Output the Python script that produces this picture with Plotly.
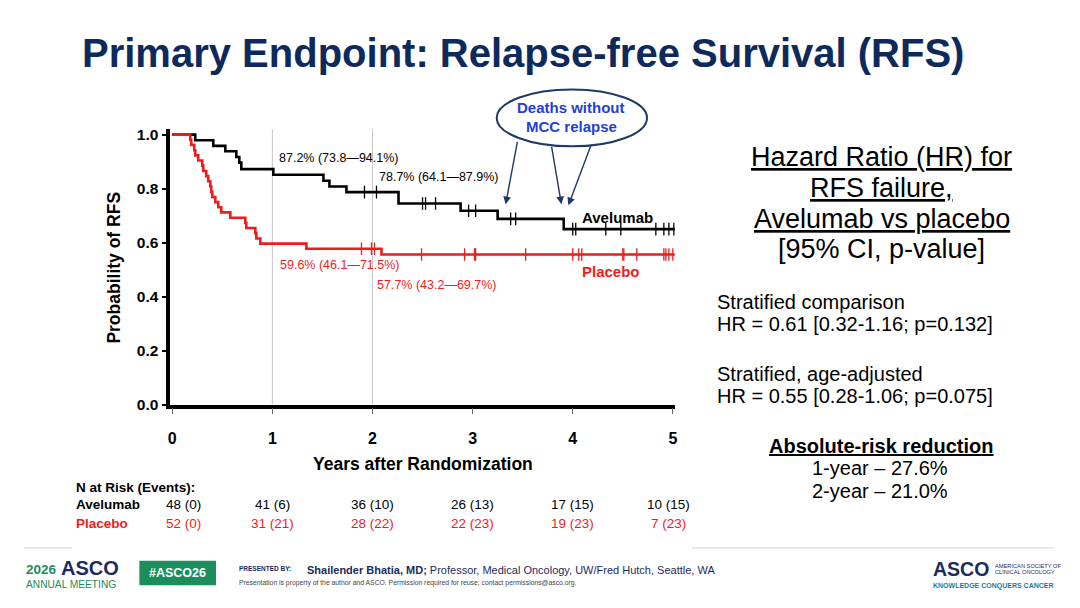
import numpy as np
import plotly.graph_objects as go

# ---------- data ----------
years = [0, 1, 2, 3, 4, 5]

# Avelumab: event times (years) and survival after each step
ave_t = [0, 0.23, 0.41, 0.53, 0.64, 0.67, 0.69, 1.01, 1.51, 1.57, 1.74, 2.26, 2.88, 3.25, 3.91, 5.02]
ave_s = [1.0, 0.979, 0.958, 0.938, 0.917, 0.896, 0.872, 0.851, 0.829, 0.808, 0.787, 0.745, 0.718, 0.688, 0.650, 0.650]
ave_cens = [1.92, 2.04, 2.50, 2.53, 2.63, 2.96, 3.03, 3.38, 3.43, 4.00, 4.03, 4.33, 4.48, 4.83, 4.91, 4.96, 5.01]

# Placebo
pla_t = [0, 0.18, 0.19, 0.22, 0.23, 0.26, 0.30, 0.31, 0.34, 0.36, 0.38, 0.39, 0.40, 0.43, 0.46,
         0.49, 0.58, 0.73, 0.74, 0.83, 0.84, 0.88, 1.34, 2.09, 5.02]
pla_s = [1.0, 0.981, 0.962, 0.942, 0.923, 0.904, 0.885, 0.865, 0.846, 0.827, 0.808, 0.788, 0.769,
         0.750, 0.731, 0.712, 0.692, 0.673, 0.654, 0.635, 0.615, 0.596, 0.577, 0.556, 0.556]
pla_cens = [1.89, 1.99, 2.02, 2.49, 2.92, 3.02, 3.03, 3.53, 4.00, 4.06, 4.09, 4.50, 4.51, 4.64,
            4.91, 4.93, 4.96, 5.00]

ave_risk = ["48 (0)", "41 (6)", "36 (10)", "26 (13)", "17 (15)", "10 (15)"]
pla_risk = ["52 (0)", "31 (21)", "28 (22)", "22 (23)", "19 (23)", "7 (23)"]

ave_notes = ["87.2% (73.8\u201494.1%)", "78.7% (64.1\u201487.9%)"]
pla_notes = ["59.6% (46.1\u201471.5%)", "57.7% (43.2\u201469.7%)"]

RED = "#ee1c1c"
NAVY = "#0e2a5c"
GREEN = "#1f8a5b"
FONT = "Arial, Liberation Sans, sans-serif"

W, H = 1080, 608


def px(x):
    return x / W


def py(y):
    return 1 - y / H


def level_at(t, times, surv):
    i = np.searchsorted(np.asarray(times), t, side="right") - 1
    return np.asarray(surv)[i]


fig = go.Figure()

# ---------- KM curves ----------
fig.add_trace(go.Scatter(x=ave_t, y=ave_s, mode="lines", line=dict(color="black", width=2.6, shape="hv"),
                         hoverinfo="skip"))
fig.add_trace(go.Scatter(x=ave_cens, y=[level_at(t, ave_t, ave_s) for t in ave_cens], mode="markers",
                         marker=dict(symbol="line-ns", size=9, line=dict(color="black", width=1.3)),
                         hoverinfo="skip"))
fig.add_trace(go.Scatter(x=pla_t, y=pla_s, mode="lines", line=dict(color=RED, width=2.6, shape="hv"),
                         hoverinfo="skip"))
fig.add_trace(go.Scatter(x=pla_cens, y=[level_at(t, pla_t, pla_s) for t in pla_cens], mode="markers",
                         marker=dict(symbol="line-ns", size=9, line=dict(color=RED, width=1.3)),
                         hoverinfo="skip"))

# gray reference lines at 1 and 2 years
for yr in (1, 2):
    fig.add_shape(type="line", xref="x", yref="y", x0=yr, x1=yr, y0=0, y1=1.02,
                  line=dict(color="#c4c4c4", width=1), layer="below")

ann = []


def txt(x, y, s, size, color="black", bold=False, anchor="center", **kw):
    if bold:
        s = "<b>" + s + "</b>"
    ann.append(dict(x=px(x), y=py(y), xref="paper", yref="paper", text=s, showarrow=False,
                    xanchor=anchor, yanchor="middle", font=dict(family=FONT, size=size, color=color), **kw))


# title
txt(523, 51, "Primary Endpoint: Relapse-free Survival (RFS)", 40, NAVY, bold=True)

# axis titles
txt(113, 269, "Probability of RFS", 17.5, bold=True, textangle=-90)
txt(423, 470, "Years after Randomization", 17.5, bold=True)

# landmark estimates
txt(276, 158, ave_notes[0], 12.5, anchor="left")
txt(377, 177, ave_notes[1], 12.5, anchor="left")
txt(277, 267, pla_notes[0], 12.5, RED, anchor="left")
txt(375, 287, pla_notes[1], 12.5, RED, anchor="left")
txt(581, 218, "Avelumab", 15, bold=True, anchor="left")
txt(581, 273, "Placebo", 15, RED, bold=True, anchor="left")

# callout
fig.add_shape(type="circle", xref="paper", yref="paper", x0=px(497), x1=px(648), y0=py(146), y1=py(88),
              line=dict(color="#1f3864", width=2), fillcolor="white")
txt(572, 106, "Deaths without", 15, "#1f3fd6", bold=True)
txt(572, 126, "MCC relapse", 15, "#1f3fd6", bold=True)
for hx, hy, tx, ty in [(506, 205, 518, 141), (562, 205, 552, 146), (569, 206, 592, 145)]:
    ann.append(dict(x=px(hx), y=py(hy), xref="paper", yref="paper", ax=tx - hx, ay=ty - hy, text="",
                    showarrow=True, arrowhead=2, arrowsize=1.1, arrowwidth=1.4, arrowcolor="#1f3864"))

# number at risk table
txt(72, 493, "N at Risk (Events):", 13.5, bold=True, anchor="left")
txt(72, 511, "Avelumab", 13.5, bold=True, anchor="left")
txt(72, 530, "Placebo", 13.5, RED, bold=True, anchor="left")
for i, yr in enumerate(years):
    shift = {0: 11, 5: -4}.get(i, 0)
    ann.append(dict(x=yr, y=py(511), xref="x", yref="paper", text=ave_risk[i], showarrow=False, xshift=shift,
                    yanchor="middle", font=dict(family=FONT, size=13.5, color="black")))
    ann.append(dict(x=yr, y=py(530), xref="x", yref="paper", text=pla_risk[i], showarrow=False, xshift=shift,
                    yanchor="middle", font=dict(family=FONT, size=13.5, color=RED)))

# right panel
txt(884, 157, "<u>Hazard Ratio (HR) for</u>", 27)
txt(884, 188, "<u>RFS failure,</u>", 27)
txt(884, 220, "<u>Avelumab vs placebo</u>", 27)
txt(884, 251, "[95% CI, p-value]", 27)
txt(716, 305, "Stratified comparison", 20, anchor="left")
txt(716, 327, "HR = 0.61 [0.32-1.16; p=0.132]", 20, anchor="left")
txt(716, 378, "Stratified, age-adjusted", 20, anchor="left")
txt(716, 400, "HR = 0.55 [0.28-1.06; p=0.075]", 20, anchor="left")
txt(883, 451, "<u>Absolute-risk reduction</u>", 20, bold=True)
txt(882, 474, "1-year \u2013 27.6%", 20)
txt(882, 497, "2-year \u2013 21.0%", 20)

# ---------- footer ----------
fig.add_shape(type="line", xref="paper", yref="paper", x0=px(22), x1=px(70), y0=py(555), y1=py(555),
              line=dict(color="#dcdcdc", width=1.2))
fig.add_shape(type="line", xref="paper", yref="paper", x0=px(693), x1=px(1057), y0=py(555), y1=py(555),
              line=dict(color="#dcdcdc", width=1.2))
txt(22, 577, "2026", 13.5, GREEN, bold=True, anchor="left")
txt(57, 575.5, "ASCO", 20, "#1c2a5e", bold=True, anchor="left")
txt(22, 592.5, "ANNUAL MEETING", 10.2, GREEN, anchor="left")
fig.add_shape(type="rect", xref="paper", yref="paper", x0=px(138), x1=px(215), y0=py(593), y1=py(568),
              line=dict(width=0), fillcolor="#1a8f5c")
txt(176.5, 580.5, "#ASCO26", 12.5, "white", bold=True)
txt(236, 576, "PRESENTED BY:", 6.5, "#1c2a5e", bold=True, anchor="left")
txt(304, 577, "<b>Shailender Bhatia, MD;</b> Professor, Medical Oncology, UW/Fred Hutch, Seattle, WA",
    11, "#1c2a5e", anchor="left")
txt(236, 591, "Presentation is property of the author and ASCO. Permission required for reuse; "
    "contact permissions@asco.org.", 6.8, "#444444", anchor="left")
txt(933, 576, "ASCO", 19.5, "#1c2a5e", bold=True, anchor="left")
txt(996, 573, "AMERICAN SOCIETY OF", 5.7, "#1c2a5e", anchor="left")
txt(996, 579.5, "CLINICAL ONCOLOGY", 5.7, "#1c2a5e", anchor="left")
txt(933, 593.5, "KNOWLEDGE CONQUERS CANCER", 7, "#1f7a9a", bold=True, anchor="left")

fig.update_layout(
    width=W, height=H,
    margin=dict(l=0, r=0, t=0, b=0),
    paper_bgcolor="white", plot_bgcolor="white",
    showlegend=False,
    annotations=ann,
    xaxis=dict(domain=[px(169), px(676)], range=[-0.02, 5.02], tickvals=years,
               ticktext=["<b>%d</b>" % y for y in years],
               showgrid=False, zeroline=False, showline=True, linecolor="black", linewidth=3.5,
               ticks="outside", ticklen=6, tickwidth=1, tickcolor="#666666", ticklabelstandoff=10,
               tickfont=dict(family=FONT, size=16, color="black")),
    yaxis=dict(domain=[py(409), py(128.5)], range=[0, 1.02], tickvals=[0, 0.2, 0.4, 0.6, 0.8, 1.0],
               ticktext=["<b>0.0</b>", "<b>0.2</b>", "<b>0.4</b>", "<b>0.6</b>", "<b>0.8</b>", "<b>1.0</b>"],
               showgrid=False, zeroline=False, showline=True, linecolor="black", linewidth=3.5,
               ticks="outside", ticklen=4, tickwidth=1.5, tickcolor="black", ticklabelstandoff=1,
               tickfont=dict(family=FONT, size=15.5, color="black")),
)

# page body margin off so the figure sits at the window's top-left corner
fig.write_html("out.html", config={"displayModeBar": False},
               post_script="document.body.style.margin='0';")
